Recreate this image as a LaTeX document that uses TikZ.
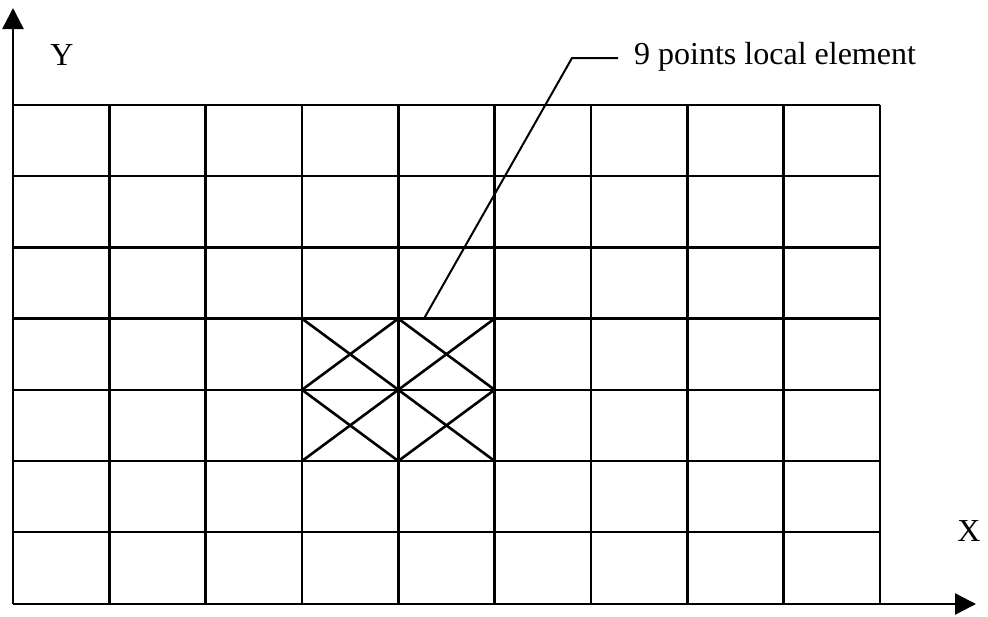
\documentclass[tikz,border=0pt]{standalone}
\usepackage{fontspec}
\setmainfont{Liberation Serif}
\usetikzlibrary{arrows.meta}
\begin{document}
\begin{tikzpicture}[x=1pt,y=-1pt,
  gridline/.style={line width=2.4pt},
  axisline/.style={line width=2.4pt,-{Triangle[length=21pt,width=21pt]}},
  crossline/.style={line width=2.6pt},
  leader/.style={line width=2pt},
  lbl/.style={font=\fontsize{32}{36}\selectfont,inner sep=0pt}]
\useasboundingbox (0,0) rectangle (988,616);
% grid: 9 columns x 7 rows
\foreach \i in {0,...,9}{
  \draw[gridline] ({13+\i*96.33},105) -- ({13+\i*96.33},604);
}
\foreach \j in {0,...,6}{
  \draw[gridline] (13,{105+\j*71.2}) -- (880,{105+\j*71.2});
}
% axes
\coordinate (o) at (13,604);
\coordinate (ytip) at (13,8);
\coordinate (xtip) at (976,604);
\draw[axisline] (o) -- (ytip);
\draw[axisline] (o) -- (xtip);
\node[lbl] (ylab) at (62,55) {Y};
\node[lbl] (xlab) at (969,531) {X};
% 9 points local element
\coordinate (a) at (302,318.6);
\coordinate (b) at (398.3,318.6);
\coordinate (c) at (494.6,318.6);
\coordinate (d) at (302,389.8);
\coordinate (e) at (398.3,389.8);
\coordinate (f) at (494.6,389.8);
\coordinate (g) at (302,461);
\coordinate (h) at (398.3,461);
\coordinate (k) at (494.6,461);
\draw[crossline] (a) -- (e) -- (k);
\draw[crossline] (g) -- (e) -- (c);
\draw[crossline] (b) -- (d) -- (h) -- (f) -- (b);
% leader
\coordinate (lstart) at (424,318.6);
\coordinate (lbend) at (572,58);
\node[lbl,anchor=west] (elab) at (634,57) {9 points local element};
\draw[leader] (lstart) -- (lbend) -- (618,58);
\end{tikzpicture}
\end{document}
